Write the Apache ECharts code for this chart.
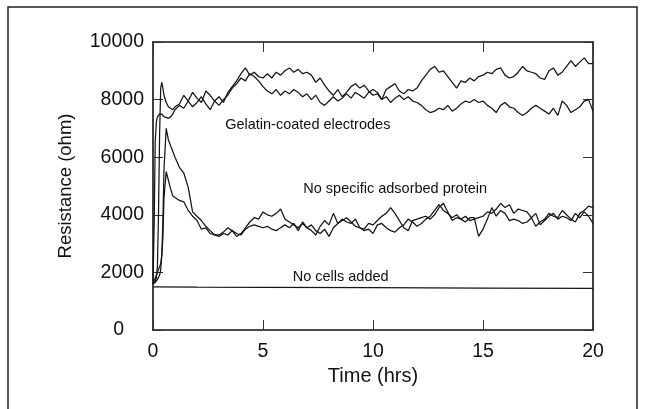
<!DOCTYPE html>
<html>
<head>
<meta charset="utf-8">
<script src="https://cdn.jsdelivr.net/npm/echarts@6/dist/echarts.min.js"></script>
<style>html,body{margin:0;padding:0;background:#fff;}#c{width:645px;height:409px;}</style>
</head>
<body>
<div id="c"></div>
<script>
// sample times (hrs)
var timeHrs = [
  0, 0.05, 0.1, 0.15, 0.2, 0.25, 0.3, 0.35, 0.4, 0.45, 0.5, 0.6, 0.7, 0.8, 0.9,
  1.0, 1.2, 1.4, 1.6, 1.8, 2.0, 2.2, 2.4, 2.6, 2.8, 3.0, 3.2, 3.4, 3.6, 3.8, 4.0, 4.2, 4.4, 4.6, 4.8, 5.0,
  5.2, 5.4, 5.6, 5.8, 6.0, 6.2, 6.4, 6.6, 6.8, 7.0, 7.2, 7.4, 7.6, 7.8, 8.0, 8.2, 8.4, 8.6, 8.8, 9.0, 9.2, 9.4, 9.6, 9.8, 10.0,
  10.2, 10.4, 10.6, 10.8, 11.0, 11.2, 11.4, 11.6, 11.8, 12.0, 12.2, 12.4, 12.6, 12.8, 13.0, 13.2, 13.4, 13.6, 13.8, 14.0, 14.2, 14.4, 14.6, 14.8, 15.0,
  15.2, 15.4, 15.6, 15.8, 16.0, 16.2, 16.4, 16.6, 16.8, 17.0, 17.2, 17.4, 17.6, 17.8, 18.0, 18.2, 18.4, 18.6, 18.8, 19.0, 19.2, 19.4, 19.6, 19.8, 20.0
];

// Gelatin-coated electrodes, well 1 (ohm)
var gelatinA = [
  1600, 1650, 1700, 1800, 2200, 4000, 6800, 8400, 8600, 8400, 8150, 7900, 7750, 7700, 7650,
  7750, 7850, 8150, 7950, 8250, 8050, 7900, 8300, 8150, 7950, 8100, 7900, 8250, 8450, 8650, 8900, 9100, 8850, 8950, 8800, 8750,
  8900, 8750, 8950, 8850, 9000, 9100, 8950, 9050, 8900, 8950, 8850, 8600, 8750, 8500, 8300, 8150, 8350, 8100, 8250, 8450, 8550, 8400, 8500, 8300, 8150,
  8200, 8000, 8350, 8450, 8550, 8300, 8200, 8350, 8300, 8400, 8650, 8850, 9050, 9150, 8950, 9000, 8800, 8600, 8400, 8650, 8600, 8750, 8650, 8800, 8850,
  8950, 8900, 9050, 9100, 8850, 8750, 8800, 8950, 9150, 9000, 8950, 8900, 8750, 8700, 9000, 9100, 8850, 8950, 9150, 9350, 9150, 9300, 9450, 9250, 9250
];
// Gelatin-coated electrodes, well 2 (ohm)
var gelatinB = [
  1600, 3500, 6500, 7200, 7400, 7450, 7500, 7550, 7500, 7450, 7400, 7380, 7350, 7400, 7500,
  7650, 7800, 7700, 7950, 7750, 7900, 8100, 7850, 7650, 7950, 7800, 8000, 8150, 8400, 8550, 8750, 8650, 8900, 8800, 8650, 8450,
  8300, 8200, 8350, 8150, 8300, 8200, 8350, 8250, 8100, 8200, 8000, 8150, 7900, 7800, 7950, 8100, 7950, 8050, 8200, 8050, 8250, 8150, 8050, 8250, 8350,
  8250, 8000, 8100, 7900, 8050, 8150, 8000, 8100, 7950, 7900, 7800, 7650, 7550, 7600, 7700, 7650, 7800, 7600, 7700, 7850, 7950, 7900, 8000, 7900, 7950,
  7800, 7700, 7550, 7800, 7900, 7750, 7700, 7550, 7450, 7550, 7700, 7800, 7700, 7600, 7500, 7700, 7450, 7950, 7800, 7550, 7650, 7750, 7950, 8000, 7600
];
// No specific adsorbed protein, well 1 (ohm)
var noProteinA = [
  1600, 1620, 1650, 1700, 1750, 1800, 1900, 2100, 2600, 3800, 5600, 7000, 6600, 6400, 6200,
  6000, 5650, 5450, 4950, 4100, 3950, 3800, 3600, 3450, 3300, 3250, 3350, 3300, 3450, 3250, 3350, 3550, 3750, 3900, 3850, 4100,
  4000, 3950, 4050, 4200, 3850, 3750, 3650, 3550, 3700, 3550, 3450, 3300, 3600, 3800, 3650, 4050, 3700, 3850, 3750, 3700, 3850, 3550, 3500, 3700, 3650,
  3800, 3950, 4050, 4250, 4050, 3800, 3550, 3450, 3800, 3850, 3900, 3950, 3850, 4000, 4250, 4400, 4100, 3800, 3900, 3850, 3750, 3900, 3900, 3250, 3500,
  3850, 4250, 3950, 4150, 4050, 3800, 3850, 3800, 3700, 3750, 3900, 4050, 3650, 3800, 3950, 4050, 3850, 3950, 3900, 3800, 4050, 3900, 4100, 3950, 3700
];
// No specific adsorbed protein, well 2 (ohm)
var noProteinB = [
  1600, 1700, 1800, 1900, 2000, 2100, 2200, 2300, 2600, 3200, 4600, 5500, 5200, 4900, 4650,
  4600, 4500, 4450, 4150, 3950, 3800, 3500, 3550, 3350, 3300, 3300, 3400, 3550, 3450, 3350, 3300, 3500, 3600, 3650, 3600, 3550,
  3600, 3500, 3450, 3550, 3650, 3550, 3700, 3450, 3750, 3550, 3650, 3450, 3350, 3500, 3250, 3550, 3700, 3800, 3900, 3750, 3600, 3550, 3450, 3500, 3350,
  3650, 3700, 3550, 3450, 3400, 3550, 3650, 3850, 3750, 3600, 3700, 3850, 3950, 4150, 4350, 4150, 4050, 3900, 4000, 3850, 3950, 3800, 3850, 3900, 3950,
  4100, 4050, 4200, 4400, 4250, 4350, 4050, 4200, 4150, 4100, 3900, 3600, 3750, 3850, 4050, 3950, 3900, 4150, 4000, 3850, 3750, 4050, 4150, 4300, 4250
];
// No cells added
var noCellsTime = [0, 2, 5, 10, 15, 20];
var noCells = [1500, 1490, 1480, 1470, 1455, 1445];

// tick labels
var xTicks = [0, 5, 10, 15, 20];
var yTicks = [0, 2000, 4000, 6000, 8000, 10000];

// annotations
var annotText = ['Gelatin-coated electrodes', 'No specific adsorbed protein', 'No cells added'];
var annotX = [3.28, 6.83, 6.35];
var annotY = [7125, 4890, 1853];

var FONT = "'Liberation Sans', Arial, Helvetica, sans-serif";

function zip(t, v) { var out = []; for (var i = 0; i < v.length; i++) out.push([t[i], v[i]]); return out; }

var chart = echarts.init(document.getElementById('c'), null, { renderer: 'canvas' });

var axisLineStyle = { color: '#111', width: 1.6 };
var tickStyle = { inside: true, length: 10, lineStyle: { color: '#333', width: 1 } };

function lineSeries(name, t, v) {
  return {
    name: name, type: 'line', data: zip(t, v), symbol: 'none', smooth: false,
    lineStyle: { color: '#151515', width: 1.25 }, xAxisIndex: 0, yAxisIndex: 0,
    silent: true, animation: false
  };
}

var option = {
  backgroundColor: '#fff',
  animation: false,
  grid: { left: 153, right: 52, top: 42, bottom: 79, containLabel: false },
  xAxis: [
    {
      type: 'value', min: xTicks[0], max: xTicks[xTicks.length - 1], interval: xTicks[1] - xTicks[0], position: 'bottom',
      axisLine: { show: true, onZero: false, lineStyle: axisLineStyle }, axisTick: tickStyle, splitLine: { show: false },
      axisLabel: { fontSize: 19.5, color: '#111', margin: 12, fontFamily: FONT },
      name: 'Time (hrs)', nameLocation: 'middle', nameGap: 36,
      nameTextStyle: { fontSize: 20, color: '#111', fontFamily: FONT }
    },
    {
      type: 'value', min: xTicks[0], max: xTicks[xTicks.length - 1], interval: xTicks[1] - xTicks[0], position: 'top',
      axisLine: { show: true, onZero: false, lineStyle: axisLineStyle }, axisTick: tickStyle, splitLine: { show: false },
      axisLabel: { show: false }
    }
  ],
  yAxis: [
    {
      type: 'value', min: yTicks[0], max: yTicks[yTicks.length - 1], interval: yTicks[1] - yTicks[0], position: 'left',
      axisLine: { show: true, onZero: false, lineStyle: axisLineStyle }, axisTick: tickStyle, splitLine: { show: false },
      axisLabel: {
        fontSize: 19.5, color: '#111', margin: 9, fontFamily: FONT,
        formatter: function (v) { return v === 0 ? '{z|0}' : String(v); },
        rich: { z: { fontSize: 19.5, color: '#111', fontFamily: FONT, padding: [0, 20, 0, 0] } }
      },
      name: 'Resistance (ohm)', nameLocation: 'middle', nameGap: 78,
      nameTextStyle: { fontSize: 18.5, color: '#111', fontFamily: FONT }
    },
    {
      type: 'value', min: yTicks[0], max: yTicks[yTicks.length - 1], interval: yTicks[1] - yTicks[0], position: 'right',
      axisLine: { show: true, onZero: false, lineStyle: axisLineStyle }, axisTick: tickStyle, splitLine: { show: false },
      axisLabel: { show: false }
    }
  ],
  series: [
    lineSeries('No cells added', noCellsTime, noCells),
    lineSeries('Gelatin A', timeHrs, gelatinA),
    lineSeries('Gelatin B', timeHrs, gelatinB),
    lineSeries('No protein A', timeHrs, noProteinA),
    lineSeries('No protein B', timeHrs, noProteinB)
  ]
};
chart.setOption(option);

var graphics = [{
  type: 'rect', silent: true,
  shape: { x: 8, y: 7, width: 629, height: 420 },
  style: { fill: 'none', stroke: '#222', lineWidth: 1.5 }
}];
for (var i = 0; i < annotText.length; i++) {
  var p = chart.convertToPixel({ gridIndex: 0 }, [annotX[i], annotY[i]]);
  graphics.push({
    type: 'text', silent: true, x: p[0], y: p[1],
    style: { text: annotText[i], fontSize: 14.5, fontFamily: FONT, fill: '#111', align: 'left', verticalAlign: 'middle' }
  });
}
chart.setOption({ graphic: graphics });
</script>
</body>
</html>
